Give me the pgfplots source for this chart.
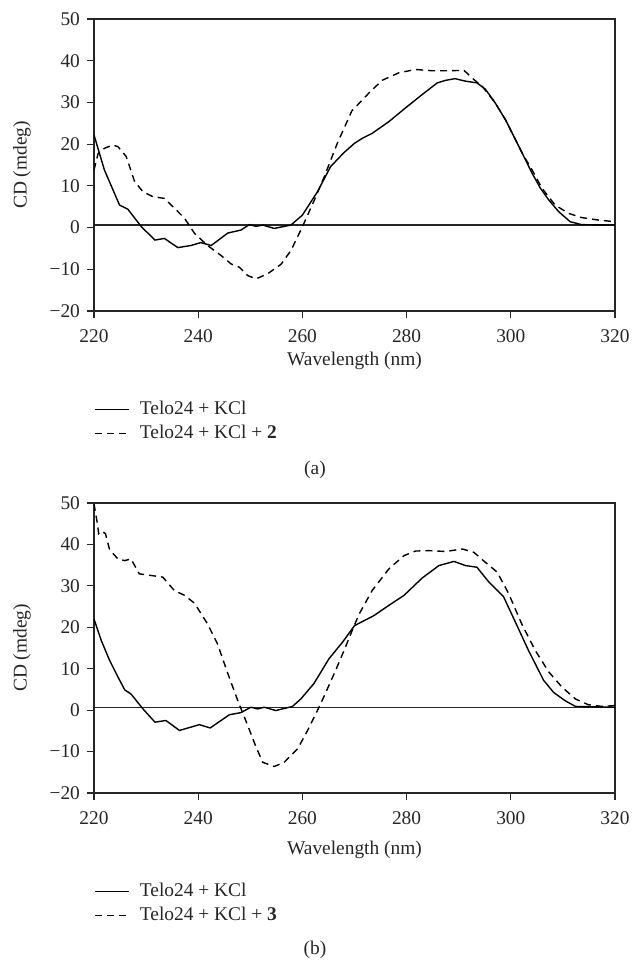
\documentclass[border=0pt]{standalone}
\usepackage{fontspec}
\setmainfont{Liberation Serif}
\usepackage{pgfplots}
\pgfplotsset{compat=1.18}

\pgfplotsset{
  cdaxis/.style={
    scale only axis, width=260.5pt,
    xmin=220, xmax=320, ymin=-20, ymax=50,
    xtick={220,240,...,320}, ytick={-20,-10,...,50},
    yticklabels={−20,−10,0,10,20,30,40,50},
    /pgf/number format/assume math mode=true,
    /pgf/number format/1000 sep={},
    tick align=outside, xtick pos=bottom, ytick pos=left,
    major tick length=3.5pt,
    axis line style={black!85, line width=0.6pt},
    tick style={black!85, line width=0.6pt},
    font=\fontsize{9.7}{11.6}\selectfont,
    every tick label/.append style={text=black!85},
    xticklabel style={yshift=-2.5pt},
    xlabel={Wavelength (nm)}, ylabel={CD (mdeg)},
    label style={text=black!85},
    ylabel style={at={(axis description cs:0,0.5)}, anchor=center, yshift=36pt},
    legend cell align=left,
    legend style={draw=none, fill=none, at={(axis description cs:0,0)},
      anchor=north west, inner sep=0pt, row sep=0pt,
      nodes={inner sep=2pt, text height=6.5pt, text depth=1.5pt, text=black!85},
      /tikz/every odd column/.append style={column sep=3pt}},
  },
  solidc/.style={black, line width=0.7pt},
  dashc/.style={black, line width=0.7pt, dash pattern=on 3.5pt off 2.5pt},
  zeroc/.style={black!85, line width=0.6pt, forget plot},
}

\begin{document}
\begin{tikzpicture}
\path[use as bounding box] (0,0) rectangle (317pt,480pt);

% panel (a)
\begin{axis}[cdaxis, height=146pt, at={(47pt,324.5pt)}, anchor=south west,
  xlabel style={at={(axis description cs:0.5,0)}, anchor=center, yshift=-25pt},
  legend style={yshift=-43pt}]
\addplot[zeroc] coordinates {(220,0.6)(320,0.6)};
\addplot[solidc] coordinates {
(220,22.2)(222,13.8)(224.9,5.4)(226.5,4.4)(229.1,0.2)(231.7,-3.0)(233.5,-2.6)
(236.1,-4.8)(238.6,-4.3)(240.5,-3.6)(242.5,-4.3)(245.7,-1.3)(248.2,-0.6)
(249.8,0.7)(251.1,0.3)(252.4,0.6)(254.6,-0.2)(257.8,0.6)(260,3.0)(262.9,8.6)
(265.4,14.6)(268,18.0)(270,20.2)(271.5,21.4)(273.4,22.6)(276.6,25.4)(279.8,28.7)
(283,31.9)(285.9,34.7)(287.5,35.3)(289.3,35.7)(291.3,35.1)(293.5,34.7)(295.1,33.2)
(297,29.9)(299,25.8)(300.6,21.8)(302.2,17.8)(304.1,13.0)(305.7,9.4)(307.3,6.6)
(309.2,3.8)(311.4,1.4)(313.6,0.7)(320,0.6)};
\addlegendentry{Telo24 + KCl}
\addplot[dashc] coordinates {
(220,13.8)(220.8,17.8)(222,19.0)(223.6,19.8)(224.6,19.4)(226.2,17.0)(227.8,11.0)
(229.4,8.6)(231.3,7.4)(233.5,7.0)(235.8,4.2)(237.4,2.2)(239.3,-1.4)(241.8,-4.3)
(244.4,-6.7)(246.3,-8.7)(247.9,-9.5)(249.5,-11.5)(251.1,-12.3)(253.3,-11.1)
(255.9,-8.8)(257.8,-5.5)(260,0.2)(262.3,6.6)(264.2,12.2)(266.7,20.2)(269.5,28.0)
(270.9,29.8)(272.8,32.3)(275.3,35.3)(278.5,37.1)(281.7,37.9)(284.9,37.6)
(288.1,37.6)(291,37.7)(292.9,35.5)(294.5,33.9)(297,29.9)(299,25.8)(302.2,17.8)
(304.1,13.8)(306,9.4)(308.5,5.4)(311.1,3.4)(313.6,2.4)(316.8,1.8)(320,1.4)};
\addlegendentry{Telo24 + KCl + \textbf{2}}
\end{axis}
\node[text=black!85, font=\fontsize{9.7}{11.6}\selectfont] at (157.5pt,245pt) {(a)};

% panel (b)
\begin{axis}[cdaxis, height=145pt, at={(47pt,83.5pt)}, anchor=south west,
  xlabel style={at={(axis description cs:0.5,0)}, anchor=center, yshift=-28.5pt},
  legend style={yshift=-43pt}]
\addplot[zeroc] coordinates {(220,0.6)(320,0.6)};
\addplot[solidc] coordinates {
(220,22.0)(221.4,16.8)(223,12.0)(224.6,8.0)(225.9,4.9)(227.1,3.9)(229.4,0.3)
(231.7,-2.9)(233.8,-2.5)(236.4,-4.9)(238.6,-4.1)(240.2,-3.5)(242.3,-4.3)
(246,-1.1)(248.2,-0.6)(250.1,0.7)(251.4,0.3)(252.7,0.7)(254.9,-0.1)(258.1,0.9)
(259.7,2.7)(262.2,6.4)(265.1,12.4)(267.7,16.4)(270,20.4)(273.7,22.8)(276.6,25.3)
(279.5,27.7)(283,31.9)(286.2,34.9)(289.1,35.9)(291.3,34.9)(293.5,34.5)(295.8,30.9)
(298.6,27.4)(300.9,21.2)(303.4,14.4)(306.3,7.2)(308.2,4.3)(310.4,2.3)(312.4,0.9)
(320,0.7)};
\addlegendentry{Telo24 + KCl}
\addplot[dashc] coordinates {
(220,49.8)(220.6,45.4)(220.9,42.6)(221.5,43.2)(222.2,42.6)(223,38.7)(224.6,36.5)
(225.9,36.1)(227.1,36.5)(228.7,32.9)(231,32.5)(233.2,32.1)(235.4,28.9)(237.4,27.7)
(239.3,25.8)(241.8,20.8)(243.7,16.0)(245.7,8.8)(247.6,2.3)(249.5,-3.7)(251.1,-8.9)
(252.4,-12.6)(254.6,-13.6)(256.5,-12.6)(259.1,-9.3)(261,-4.9)(263.5,1.5)(266.1,8.8)
(268,14.4)(269.8,20.0)(270.9,23.2)(273.4,28.9)(276.6,34.1)(279.5,37.3)(281.7,38.4)
(284.3,38.5)(287.5,38.3)(290.7,38.9)(292.9,38.1)(295.1,35.7)(297.4,33.3)(299.6,28.1)
(302.1,20.8)(304.7,14.4)(307.3,9.2)(309.8,5.6)(312.4,2.7)(314.9,1.3)(317.5,0.9)
(320,1.1)};
\addlegendentry{Telo24 + KCl + \textbf{3}}
\end{axis}
\node[text=black!85, font=\fontsize{9.7}{11.6}\selectfont] at (157.5pt,5pt) {(b)};
\end{tikzpicture}
\end{document}
